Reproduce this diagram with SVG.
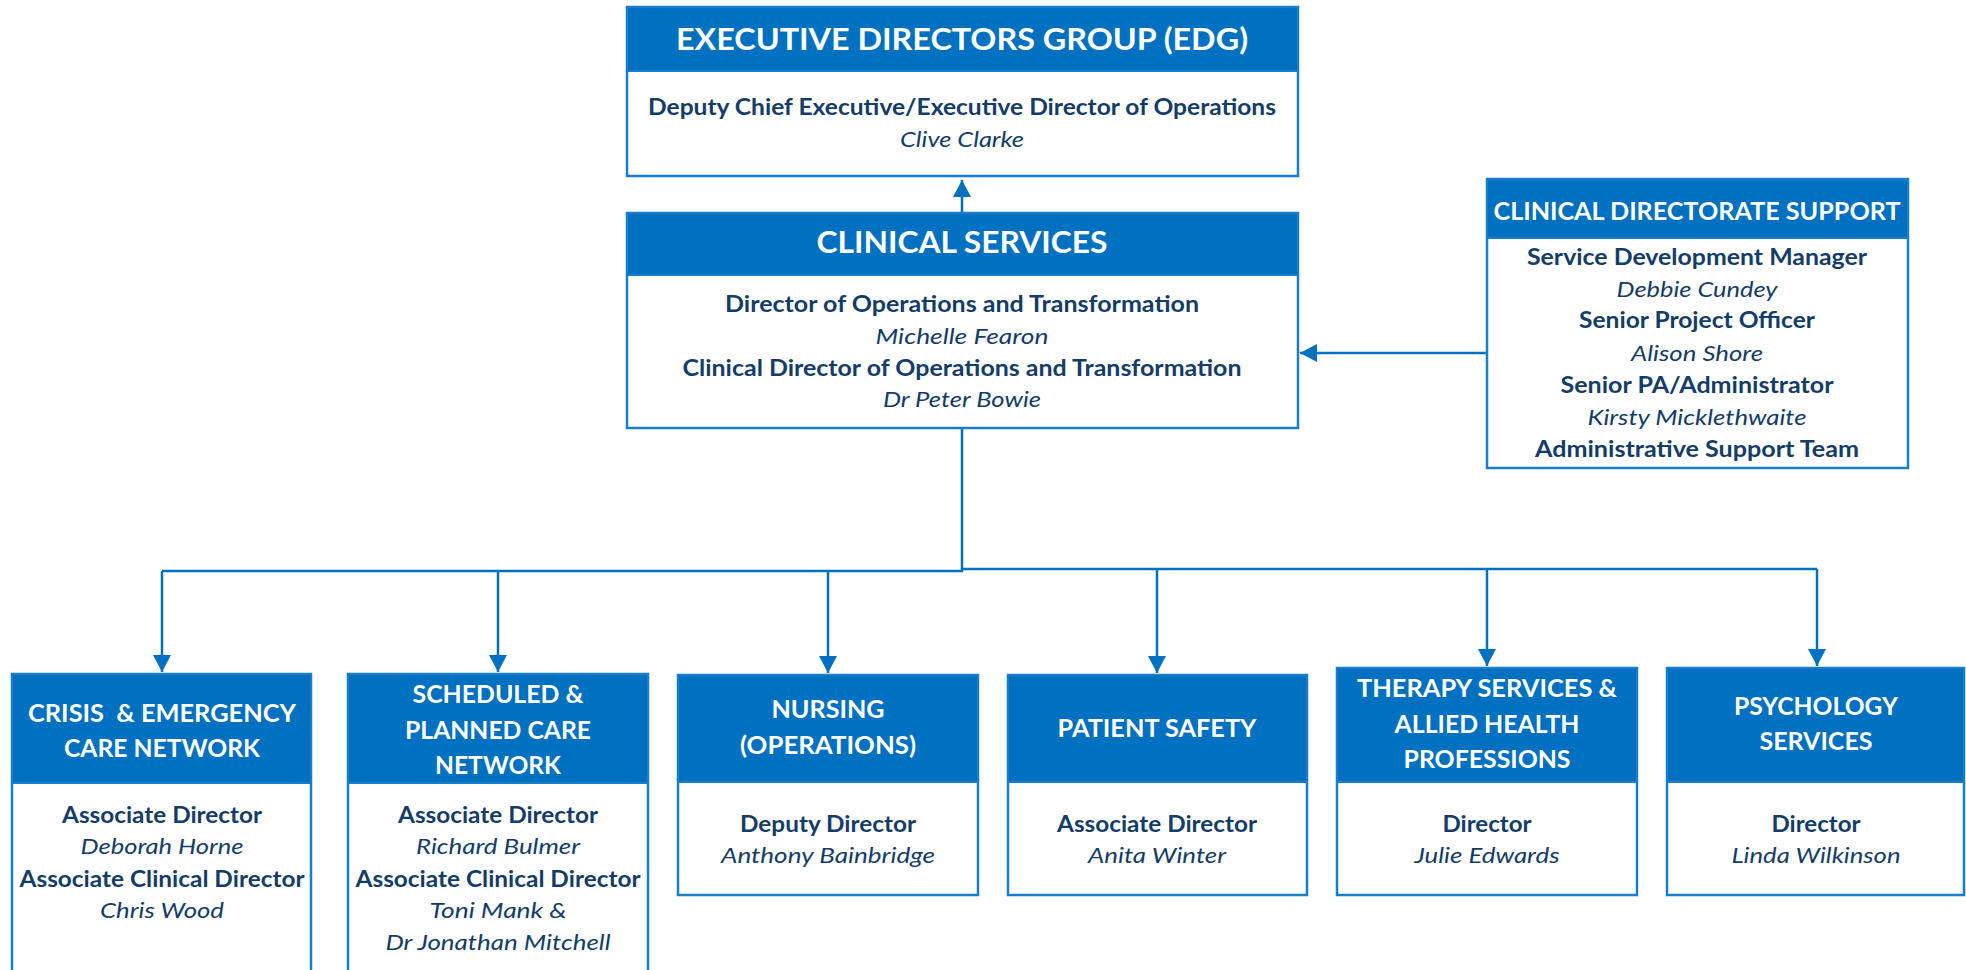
<svg xmlns="http://www.w3.org/2000/svg" width="1966" height="970" viewBox="0 0 1966 970">
<style>
.hdr{fill:#0070C0;stroke:#1A7DCC;stroke-width:2}
.body{fill:#ffffff;stroke:#1A7DCC;stroke-width:2.5}
text{font-family:Lato,"Liberation Sans",sans-serif;text-anchor:middle}
.t1{font-size:31px;font-weight:bold;fill:#ffffff}
.t2{font-size:25px;font-weight:bold;fill:#ffffff}
.b{font-size:22px;font-weight:bold;fill:#143C68}
.i{font-size:22px;font-style:italic;fill:#143C68}
.con{fill:none;stroke:#0070C0;stroke-width:2.5}
</style>
<defs>
<marker id="arr" markerUnits="userSpaceOnUse" markerWidth="18" markerHeight="18" refX="17" refY="9" orient="auto">
<path d="M0,0 L17,9 L0,18 Z" fill="#0070C0"/>
</marker>
</defs>
<g id="connectors">
<path class="con" d="M962,213 V180" marker-end="url(#arr)"/>
<path class="con" d="M1487,353 H1300" marker-end="url(#arr)"/>
<path class="con" d="M962,428 V571 H162"/>
<path class="con" d="M962,569 H1817"/>
<path class="con" d="M162,571 V672" marker-end="url(#arr)"/>
<path class="con" d="M498,571 V672" marker-end="url(#arr)"/>
<path class="con" d="M828,571 V673" marker-end="url(#arr)"/>
<path class="con" d="M1157,569 V673" marker-end="url(#arr)"/>
<path class="con" d="M1487,569 V666" marker-end="url(#arr)"/>
<path class="con" d="M1817,569 V666" marker-end="url(#arr)"/>
</g>
<g id="edg">
<rect class="body" x="627" y="7" width="671" height="169"/>
<rect class="hdr" x="627" y="7" width="671" height="64"/>
<text class="t1" x="962" y="50" textLength="572" lengthAdjust="spacingAndGlyphs">EXECUTIVE DIRECTORS GROUP (EDG)</text>
<text class="b" x="962" y="115" textLength="628" lengthAdjust="spacingAndGlyphs">Deputy Chief Executive/Executive Director of Operations</text>
<text class="i" x="962" y="147" textLength="124" lengthAdjust="spacingAndGlyphs">Clive Clarke</text>
</g>
<g id="clinical-services">
<rect class="body" x="627" y="213" width="671" height="215"/>
<rect class="hdr" x="627" y="213" width="671" height="62"/>
<text class="t1" x="962" y="253" textLength="291" lengthAdjust="spacingAndGlyphs">CLINICAL SERVICES</text>
<text class="b" x="962" y="312" textLength="474" lengthAdjust="spacingAndGlyphs">Director of Operations and Transformation</text>
<text class="i" x="962" y="344" textLength="173" lengthAdjust="spacingAndGlyphs">Michelle Fearon</text>
<text class="b" x="962" y="376" textLength="559" lengthAdjust="spacingAndGlyphs">Clinical Director of Operations and Transformation</text>
<text class="i" x="962" y="407" textLength="158" lengthAdjust="spacingAndGlyphs">Dr Peter Bowie</text>
</g>
<g id="cds">
<rect class="body" x="1487" y="179" width="421" height="289"/>
<rect class="hdr" x="1487" y="179" width="421" height="59"/>
<text class="t2" x="1697" y="220" textLength="407" lengthAdjust="spacingAndGlyphs">CLINICAL DIRECTORATE SUPPORT</text>
<text class="b" x="1697" y="265" textLength="340" lengthAdjust="spacingAndGlyphs">Service Development Manager</text>
<text class="i" x="1697" y="297" textLength="161" lengthAdjust="spacingAndGlyphs">Debbie Cundey</text>
<text class="b" x="1697" y="328" textLength="236" lengthAdjust="spacingAndGlyphs">Senior Project Officer</text>
<text class="i" x="1697" y="361" textLength="132" lengthAdjust="spacingAndGlyphs">Alison Shore</text>
<text class="b" x="1697" y="393" textLength="273" lengthAdjust="spacingAndGlyphs">Senior PA/Administrator</text>
<text class="i" x="1697" y="425" textLength="219" lengthAdjust="spacingAndGlyphs">Kirsty Micklethwaite</text>
<text class="b" x="1697" y="457" textLength="324" lengthAdjust="spacingAndGlyphs">Administrative Support Team</text>
</g>
<g id="crisis">
<rect class="body" x="12" y="674" width="299" height="320"/>
<rect class="hdr" x="12" y="674" width="299" height="109"/>
<text class="t2" x="162" y="722" textLength="268" lengthAdjust="spacingAndGlyphs" xml:space="preserve" style="white-space:pre">CRISIS  &amp; EMERGENCY</text>
<text class="t2" x="162" y="757" textLength="196" lengthAdjust="spacingAndGlyphs">CARE NETWORK</text>
<text class="b" x="162" y="823" textLength="200" lengthAdjust="spacingAndGlyphs">Associate Director</text>
<text class="i" x="162" y="854" textLength="163" lengthAdjust="spacingAndGlyphs">Deborah Horne</text>
<text class="b" x="162" y="887" textLength="285" lengthAdjust="spacingAndGlyphs">Associate Clinical Director</text>
<text class="i" x="162" y="918" textLength="124" lengthAdjust="spacingAndGlyphs">Chris Wood</text>
</g>
<g id="scheduled">
<rect class="body" x="348" y="674" width="300" height="320"/>
<rect class="hdr" x="348" y="674" width="300" height="109"/>
<text class="t2" x="498" y="703" textLength="171" lengthAdjust="spacingAndGlyphs">SCHEDULED &amp;</text>
<text class="t2" x="498" y="739" textLength="186" lengthAdjust="spacingAndGlyphs">PLANNED CARE</text>
<text class="t2" x="498" y="774" textLength="126" lengthAdjust="spacingAndGlyphs">NETWORK</text>
<text class="b" x="498" y="823" textLength="200" lengthAdjust="spacingAndGlyphs">Associate Director</text>
<text class="i" x="498" y="854" textLength="164" lengthAdjust="spacingAndGlyphs">Richard Bulmer</text>
<text class="b" x="498" y="887" textLength="285" lengthAdjust="spacingAndGlyphs">Associate Clinical Director</text>
<text class="i" x="498" y="918" textLength="137" lengthAdjust="spacingAndGlyphs">Toni Mank &amp;</text>
<text class="i" x="498" y="950" textLength="225" lengthAdjust="spacingAndGlyphs">Dr Jonathan Mitchell</text>
</g>
<g id="nursing">
<rect class="body" x="678" y="675" width="300" height="220"/>
<rect class="hdr" x="678" y="675" width="300" height="107"/>
<text class="t2" x="828" y="718" textLength="113" lengthAdjust="spacingAndGlyphs">NURSING</text>
<text class="t2" x="828" y="754" textLength="176" lengthAdjust="spacingAndGlyphs">(OPERATIONS)</text>
<text class="b" x="828" y="832" textLength="176" lengthAdjust="spacingAndGlyphs">Deputy Director</text>
<text class="i" x="828" y="863" textLength="214" lengthAdjust="spacingAndGlyphs">Anthony Bainbridge</text>
</g>
<g id="patient-safety">
<rect class="body" x="1008" y="675" width="299" height="220"/>
<rect class="hdr" x="1008" y="675" width="299" height="107"/>
<text class="t2" x="1157" y="737" textLength="199" lengthAdjust="spacingAndGlyphs">PATIENT SAFETY</text>
<text class="b" x="1157" y="832" textLength="200" lengthAdjust="spacingAndGlyphs">Associate Director</text>
<text class="i" x="1157" y="863" textLength="138" lengthAdjust="spacingAndGlyphs">Anita Winter</text>
</g>
<g id="therapy">
<rect class="body" x="1337" y="668" width="300" height="227"/>
<rect class="hdr" x="1337" y="668" width="300" height="114"/>
<text class="t2" x="1487" y="697" textLength="260" lengthAdjust="spacingAndGlyphs">THERAPY SERVICES &amp;</text>
<text class="t2" x="1487" y="733" textLength="185" lengthAdjust="spacingAndGlyphs">ALLIED HEALTH</text>
<text class="t2" x="1487" y="768" textLength="167" lengthAdjust="spacingAndGlyphs">PROFESSIONS</text>
<text class="b" x="1487" y="832" textLength="89" lengthAdjust="spacingAndGlyphs">Director</text>
<text class="i" x="1487" y="863" textLength="145" lengthAdjust="spacingAndGlyphs">Julie Edwards</text>
</g>
<g id="psychology">
<rect class="body" x="1667" y="668" width="297" height="227"/>
<rect class="hdr" x="1667" y="668" width="297" height="114"/>
<text class="t2" x="1816" y="715" textLength="164" lengthAdjust="spacingAndGlyphs">PSYCHOLOGY</text>
<text class="t2" x="1816" y="750" textLength="113" lengthAdjust="spacingAndGlyphs">SERVICES</text>
<text class="b" x="1816" y="832" textLength="89" lengthAdjust="spacingAndGlyphs">Director</text>
<text class="i" x="1816" y="863" textLength="169" lengthAdjust="spacingAndGlyphs">Linda Wilkinson</text>
</g>
</svg>
